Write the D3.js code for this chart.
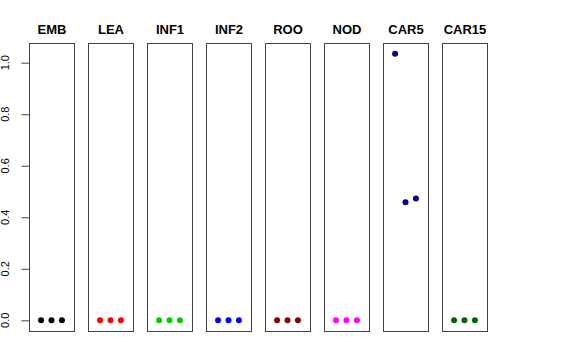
<!DOCTYPE html>
<html><head><meta charset="utf-8">
<script src="https://cdn.jsdelivr.net/npm/d3@7"></script>
<style>body{margin:0;background:#fff}svg{display:block}</style>
</head><body>
<script>
const panels = ["EMB","LEA","INF1","INF2","ROO","NOD","CAR5","CAR15"];
const colors = ["#000000","#FF0000","#00CD00","#0000FF","#8B0000","#FF00FF","#00008B","#006400"];
const xIndex = [1,2,3];
const values = [
  [0,0,0],
  [0,0,0],
  [0,0,0],
  [0,0,0],
  [0,0,0],
  [0,0,0],
  [1.035,0.458,0.473],
  [0,0,0]
];
const yTicks = [0,0.2,0.4,0.6,0.8,1.0];

(function(){
const W=576,H=360;
const svg=d3.select("body").append("svg").attr("width",W).attr("height",H);
const plotTop=43,plotBottom=331;
const ymin=0,ymax=d3.max(values.flat()),ypad=(ymax-ymin)*0.04;
const y=d3.scaleLinear().domain([ymin-ypad,ymax+ypad]).range([plotBottom,plotTop]);
const step=59, pw=45, left0=29;
const xp=[0,4], xpad=0.16;
panels.forEach((p,i)=>{
  const x0=left0+i*step;
  const x=d3.scaleLinear().domain([xp[0]-xpad,xp[1]+xpad]).range([x0,x0+pw]);
  const g=svg.append("g");
  g.append("rect").attr("x",x0+0.5).attr("y",plotTop+0.5).attr("width",pw).attr("height",plotBottom-plotTop)
    .attr("fill","none").attr("stroke","#444").attr("stroke-width",1);
  g.append("text").attr("x",x0+pw/2+0.5).attr("y",34).attr("text-anchor","middle")
    .attr("font-family","Liberation Sans, Arial, sans-serif").attr("font-weight","bold").attr("font-size",13)
    .text(p);
  g.selectAll("circle").data(values[i]).join("circle")
    .attr("cx",(d,j)=>x(xIndex[j])).attr("cy",d=>y(d)).attr("r",3).attr("fill",colors[i]);
});
const ax=svg.append("g").attr("transform",`translate(${left0+0.5},0)`);
ax.call(d3.axisLeft(y).tickValues(yTicks).tickFormat(d3.format(".1f")).tickSize(8).tickPadding(8));
ax.select(".domain").remove();
ax.selectAll("line").attr("stroke","#444");
ax.selectAll(".tick").attr("transform",null);
ax.selectAll(".tick line").attr("y1",d=>y(d)+0.5).attr("y2",d=>y(d)+0.5);
ax.selectAll(".tick text").attr("font-family","Liberation Sans, Arial, sans-serif").attr("font-size",11).attr("fill","#000")
  .attr("text-anchor","middle").attr("x",null).attr("dy",null)
  .attr("transform",d=>`translate(${-21},${y(d)}) rotate(-90)`);
})();
</script>
</body></html>
